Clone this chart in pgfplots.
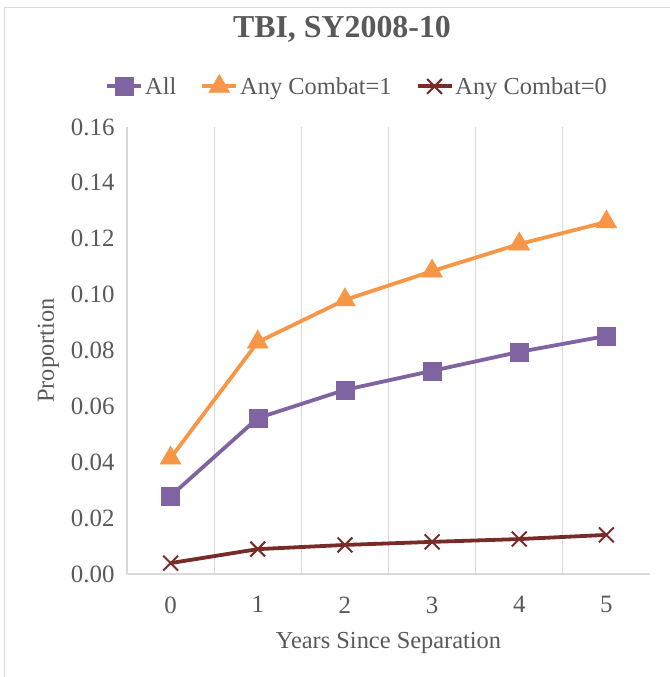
\documentclass[border=0pt]{standalone}
\usepackage{pgfplots}
\pgfplotsset{compat=1.18}
\usepackage{fontspec}
\setmainfont{Liberation Serif}
\definecolor{txt}{HTML}{595959}
\definecolor{cAll}{HTML}{8064A2}
\definecolor{cC1}{HTML}{F79646}
\definecolor{cC0}{HTML}{772C2A}
\definecolor{gridc}{HTML}{D9D9D9}
\begin{document}
\begin{tikzpicture}[x=1bp,y=1bp]
\useasboundingbox (0,0) rectangle (670,677);
\draw[gridc, line width=1bp] (4,-20) rectangle (700,669);
\node[text=txt, font=\fontsize{32}{36}\selectfont\bfseries] at (342,648) {TBI, SY2008-10};
\begin{axis}[
  at={(127bp,103bp)}, anchor=south west,
  scale only axis, width=523bp, height=447bp,
  xmin=-0.5, xmax=5.5, ymin=0, ymax=0.16,
  xtick={0,1,2,3,4,5},
  ytick={0,0.02,0.04,0.06,0.08,0.1,0.12,0.14,0.16},
  major tick length=0pt,
  axis line style={draw=none},
  extra x ticks={-0.5,0.5,1.5,2.5,3.5,4.5},
  extra x tick labels={},
  extra x tick style={grid=major, major grid style={gridc, line width=1.3bp}},
  extra y ticks={0},
  extra y tick labels={},
  extra y tick style={grid=major, major grid style={gridc, line width=1.3bp}},
  /pgf/number format/assume math mode=true,
  ticklabel style={text=txt, font=\fontsize{25}{28}\selectfont},
  yticklabel style={/pgf/number format/fixed, /pgf/number format/fixed zerofill, /pgf/number format/precision=2, xshift=-9bp},
  xticklabel style={yshift=-19bp},
  xlabel={Years Since Separation},
  ylabel={Proportion},
  label style={text=txt, font=\fontsize{24.5}{28}\selectfont},
  xlabel style={yshift=-12bp},
  ylabel style={yshift=5bp},
  legend columns=3,
  legend style={at={(0.44,1.0917)}, anchor=center, draw=none, fill=none,
    font=\fontsize{24.5}{28}\selectfont, text=txt,
    /tikz/every even column/.append style={column sep=22bp},
    inner sep=0pt},
  legend image code/.code={
    \draw[#1] (0bp,0bp) -- (34bp,0bp);
    \draw[#1, mark repeat=2, mark phase=2] plot coordinates {(0bp,0bp) (17bp,0bp) (34bp,0bp)};
  },
]
\addplot[cAll, line width=3.8bp, mark=square*, mark size=9bp, mark options={solid, line width=0.5bp}]
  coordinates {(0,0.0279) (1,0.0558) (2,0.0659) (3,0.0727) (4,0.0795) (5,0.0852)};
\addlegendentry{All}
\addplot[cC1, line width=3.8bp, mark=triangle*, mark size=12bp, mark options={solid, line width=0.5bp}]
  coordinates {(0,0.0415) (1,0.0830) (2,0.0981) (3,0.1084) (4,0.1181) (5,0.1260)};
\addlegendentry{Any Combat=1}
\addplot[cC0, line width=3.8bp, mark=x, mark size=10.5bp, mark options={solid, line width=2bp}]
  coordinates {(0,0.0039) (1,0.0089) (2,0.0104) (3,0.0115) (4,0.0125) (5,0.0140)};
\addlegendentry{Any Combat=0}
\end{axis}
\end{tikzpicture}
\end{document}
